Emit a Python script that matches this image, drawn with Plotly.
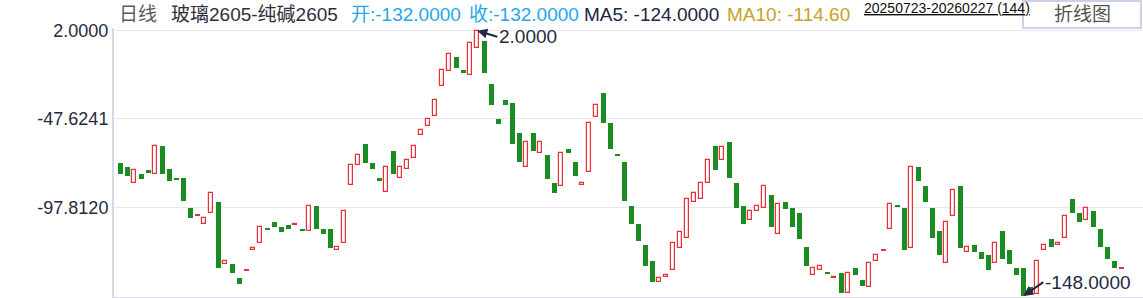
import plotly.graph_objects as go

# ---- data ----
opens = [-73, -75, -84, -79, -77, -79, -63, -76, -81, -81,
         -98, -102, -107, -101, -95, -130, -130, -138, -133, -122,
         -118, -110, -106, -109, -108, -108, -110, -111, -97, -110,
         -110, -122, -118, -85, -74, -62, -73, -81, -89, -66,
         -81, -76, -70, -57, -52, -46, -29, -21, -13, -20,
         -23, -8, -4, -28, -48, -37, -39, -56, -75, -56,
         -67, -68, -84, -86, -65, -72, -85, -78, -47, -33,
         -50, -68, -72, -97, -107, -119, -128, -140, -137, -133,
         -121, -115, -95, -93, -84, -63, -71, -61, -84, -97,
         -105, -100, -98, -91, -113, -95, -98, -101, -120, -136,
         -133, -135, -138, -135, -146, -132, -139, -143, -128, -122,
         -110, -97, -98, -121, -75, -86, -98, -111, -129, -103,
         -86, -123, -119, -123, -125, -129, -111, -122, -132, -132,
         -143, -147, -122, -116, -119, -115, -93, -101, -105, -100,
         -110, -120, -128, -132]
closes = [-79, -80, -77, -82, -78, -63, -79, -83, -82, -94,
          -104, -102, -104, -90, -132, -128, -135, -141, -133, -121,
          -109, -110, -109, -112, -110, -107, -111, -97, -110, -113,
          -121, -120, -100, -74, -68, -73, -76, -83, -75, -79,
          -75, -71, -63, -54, -48, -37, -20, -11, -19, -22,
          -5, 2, -22, -40, -51, -40, -62, -72, -61, -66,
          -61, -82, -90, -67, -67, -80, -84, -50, -40, -50,
          -65, -68, -94, -107, -117, -131, -140, -138, -136, -118,
          -112, -93, -90, -84, -71, -77, -64, -81, -98, -107,
          -100, -97, -86, -109, -96, -99, -109, -116, -131, -132,
          -131, -135, -137, -146, -135, -136, -142, -129, -125, -122,
          -96, -97, -122, -75, -83, -95, -115, -125, -106, -88,
          -121, -120, -123, -127, -133, -118, -127, -130, -136, -148,
          -146, -128, -119, -120, -118, -103, -101, -106, -98, -109,
          -120, -127, -132, -132]
ytick_vals = [2.0, -47.6241, -97.8120]
header_title = "玻璃2605-纯碱2605"
period_label = "日线"
date_range = "20250723-20260227 (144)"

n = len(opens)
idx = list(range(n))

RED = "#e8303a"
GREEN = "#1a8c22"

up_x, up_b, up_h = [], [], []
dn_x, dn_b, dn_h = [], [], []
dj_x, dj_b, dj_h, dj_c = [], [], [], []
for i in idx:
    o, c = opens[i], closes[i]
    if c > o:
        up_x.append(i); up_b.append(o); up_h.append(c - o)
    elif c < o:
        dn_x.append(i); dn_b.append(c); dn_h.append(o - c)
    else:
        prev = closes[i - 1] if i > 0 else c
        dj_x.append(i); dj_b.append(c - 0.35); dj_h.append(0.7)
        dj_c.append(RED if c >= prev else GREEN)

fig = go.Figure()
fig.add_trace(go.Bar(x=dn_x, y=dn_h, base=dn_b, width=0.67,
                     marker=dict(color=GREEN, line=dict(width=0)),
                     hoverinfo="skip", showlegend=False))
fig.add_trace(go.Bar(x=up_x, y=up_h, base=up_b, width=0.53,
                     marker=dict(color="white", line=dict(color=RED, width=1.2)),
                     hoverinfo="skip", showlegend=False))
fig.add_trace(go.Bar(x=dj_x, y=dj_h, base=dj_b, width=0.67,
                     marker=dict(color=dj_c, line=dict(width=0)),
                     hoverinfo="skip", showlegend=False))

# pixel helpers for overlay texts (plot area: x 114..1143, y 28..297)
L, R, T, B = 114, 1143, 28, 297
def px(x):
    return (x - L) / (R - L)
def py(y):
    return (B - y) / (B - T)

FONT = "Liberation Sans, Arial, Noto Sans CJK SC, sans-serif"
ann = []
def txt(x, y, s, color, size=19, xanchor="left"):
    ann.append(dict(x=px(x), y=py(y), xref="paper", yref="paper", text=s,
                    showarrow=False, xanchor=xanchor, yanchor="middle",
                    font=dict(family=FONT, size=size, color=color)))

txt(117, 14, period_label, "#5a5a5a")
txt(169, 14, header_title, "#2e2e3a")
txt(349, 14, "开:%.4f" % opens[-1], "#25a7ea")
txt(467, 14, "收:%.4f" % closes[-1], "#25a7ea")
ma5 = sum(closes[-5:]) / 5
ma10 = sum(closes[-10:]) / 10
txt(582, 14, "MA5: %.4f" % ma5, "#20243e")
txt(852, 14, "MA10: %.2f" % ma10, "#c9a128", xanchor="right")
txt(862, 8, "<u>%s</u>" % date_range, "#111111", size=14)
txt(1082, 14, "折线图", "#555555", size=19, xanchor="center")

# max / min markers
imax = max(idx, key=lambda i: max(opens[i], closes[i]))
imin = min(idx, key=lambda i: min(opens[i], closes[i]))
vmax = max(opens[imax], closes[imax])
vmin = min(opens[imin], closes[imin])
for i, v, ay in [(imax, vmax, 6), (imin, vmin, -14)]:
    ann.append(dict(x=i, y=v, xref="x", yref="y", text="%.4f" % v,
                    showarrow=True, ax=20, ay=ay, xanchor="left", yanchor="middle",
                    arrowhead=2, arrowsize=1, arrowwidth=2, arrowcolor="#262a40",
                    font=dict(family=FONT, size=19, color="#262a40")))

shapes = [dict(type="rect", xref="paper", yref="paper",
               x0=px(1023), x1=px(1141), y0=py(28), y1=py(1),
               line=dict(color="#cfd0e6", width=2), fillcolor="rgba(0,0,0,0)", layer="below")]

fig.update_layout(
    width=1143, height=298,
    margin=dict(l=L, r=0, t=T, b=298 - B),
    paper_bgcolor="white", plot_bgcolor="white",
    barmode="overlay", bargap=0,
    showlegend=False, hovermode=False,
    annotations=ann, shapes=shapes,
    font=dict(family=FONT),
    xaxis=dict(range=[(L - 120.3) / 7, (R - 120.3) / 7], showticklabels=False,
               showgrid=False, zeroline=False, showline=True,
               linecolor="#d8d8ea", linewidth=2, fixedrange=True),
    yaxis=dict(range=[-148.5, 3.53], tickvals=ytick_vals,
               ticktext=["%.4f" % v for v in ytick_vals],
               tickfont=dict(family=FONT, size=18, color="#262a40"),
               showgrid=True, gridcolor="#e8e8f2", gridwidth=1,
               zeroline=False, showline=True, linecolor="#d8d8ea", linewidth=2,
               ticks="", fixedrange=True),
)

fig.write_html("out.html", config={"displayModeBar": False})
